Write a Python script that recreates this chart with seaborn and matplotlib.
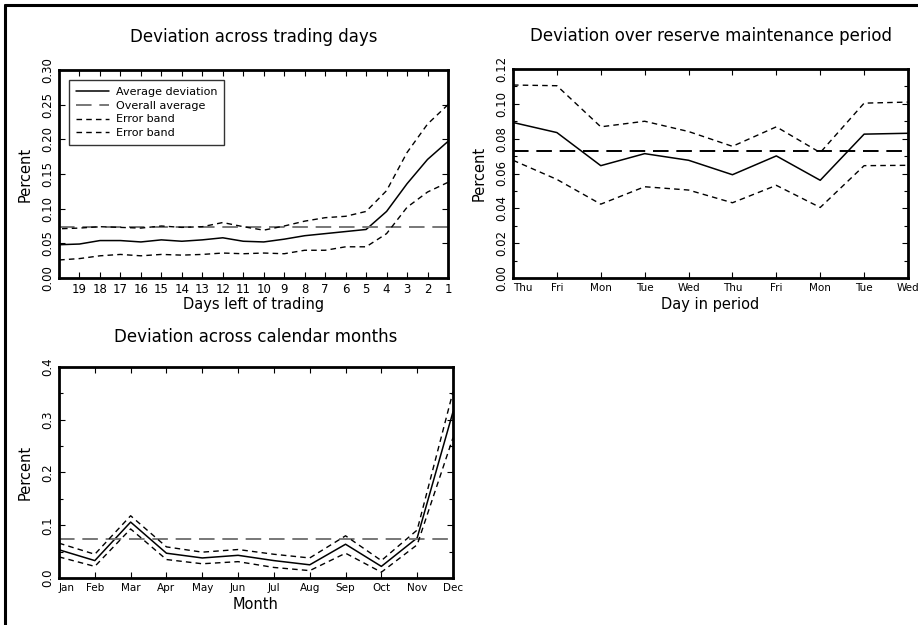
import numpy as np
import pandas as pd
import seaborn as sns
import matplotlib.pyplot as plt
from matplotlib.ticker import MultipleLocator
from matplotlib.lines import Line2D

# --- data ---
overall_avg = 0.073

days_left = list(range(20, 0, -1))
days_mean = [0.048, 0.049, 0.054, 0.054, 0.052, 0.055, 0.053, 0.055, 0.058, 0.053,
             0.052, 0.056, 0.061, 0.064, 0.067, 0.070, 0.096, 0.136, 0.171, 0.197]
days_upper = [0.071, 0.072, 0.074, 0.073, 0.072, 0.075, 0.073, 0.074, 0.080, 0.074,
              0.069, 0.075, 0.082, 0.087, 0.089, 0.096, 0.126, 0.181, 0.222, 0.250]
days_lower = [0.026, 0.028, 0.032, 0.034, 0.032, 0.034, 0.033, 0.034, 0.036, 0.035,
              0.036, 0.035, 0.040, 0.040, 0.045, 0.045, 0.064, 0.102, 0.124, 0.138]

period_days = ['Thu', 'Fri', 'Mon', 'Tue', 'Wed', 'Thu', 'Fri', 'Mon', 'Tue', 'Wed']
period_mean = [0.0893, 0.0835, 0.0645, 0.0714, 0.0676, 0.0593, 0.0701, 0.0561, 0.0826, 0.0831]
period_upper = [0.1108, 0.1104, 0.0868, 0.0900, 0.0841, 0.0756, 0.0868, 0.0720, 0.1004, 0.1010]
period_lower = [0.0676, 0.0566, 0.0424, 0.0524, 0.0505, 0.0432, 0.0532, 0.0405, 0.0645, 0.0647]

months = ['Jan', 'Feb', 'Mar', 'Apr', 'May', 'Jun', 'Jul', 'Aug', 'Sep', 'Oct', 'Nov', 'Dec']
month_mean = [0.0535, 0.033, 0.106, 0.047, 0.038, 0.043, 0.033, 0.025, 0.064, 0.022, 0.076, 0.315]
month_upper = [0.066, 0.045, 0.118, 0.059, 0.049, 0.054, 0.045, 0.038, 0.080, 0.033, 0.091, 0.353]
month_lower = [0.040, 0.022, 0.093, 0.035, 0.027, 0.031, 0.020, 0.014, 0.047, 0.011, 0.063, 0.266]

sns.set_style('ticks')
plt.rcParams['font.family'] = ['DejaVu Sans']
plt.rcParams['text.color'] = 'black'
plt.rcParams['axes.labelcolor'] = 'black'
plt.rcParams['xtick.color'] = 'black'
plt.rcParams['ytick.color'] = 'black'
plt.rcParams['axes.edgecolor'] = 'black'

W, H = 918, 625
fig = plt.figure(figsize=(W / 100, H / 100), dpi=100)

def px_axes(l, t, r, b):
    return fig.add_axes([l / W, 1 - b / H, (r - l) / W, (b - t) / H])

# outer frame (left and top edges visible)
fig.add_artist(Line2D([5 / W, 5 / W], [0, 1 - 5 / H], color='black', lw=2.2))
fig.add_artist(Line2D([5 / W, 1], [1 - 5 / H, 1 - 5 / H], color='black', lw=2.2))

short_dash = (0, (4, 3))
long_dash = (0, (8, 4))

def draw(ax, x, mean, upper, lower, avg_color):
    sns.lineplot(x=x, y=mean, ax=ax, color='black', lw=1.1, label='Average deviation')
    ax.axhline(overall_avg, color=avg_color, lw=1.4, ls=long_dash, label='Overall average')
    sns.lineplot(x=x, y=upper, ax=ax, color='black', lw=1.0, ls=short_dash, label='Error band')
    sns.lineplot(x=x, y=lower, ax=ax, color='black', lw=1.0, ls=short_dash, label='Error band')

def style(ax, title, xlabel, pad=20):
    ax.set_title(title, fontsize=12, pad=pad, color='black')
    ax.set_xlabel(xlabel, fontsize=10.5, labelpad=3)
    ax.set_ylabel('Percent', fontsize=10.5, labelpad=6)
    for s in ax.spines.values():
        s.set_linewidth(2)
        s.set_visible(True)
        s.set_color('black')
    ax.tick_params(which='both', direction='in', top=True, right=True, labelsize=8.5)
    ax.tick_params(which='major', length=4, width=0.8)
    ax.tick_params(which='minor', length=3, width=0.8)
    for lab in ax.get_yticklabels():
        lab.set_rotation(90)
        lab.set_va('center')

# panel 1: trading days
ax1 = px_axes(59, 70, 448, 278)
draw(ax1, days_left, days_mean, days_upper, days_lower, '#777777')
ax1.set_xlim(20, 1)
ax1.set_ylim(0, 0.30)
ax1.set_xticks(days_left)
ax1.set_xticklabels([''] + [str(d) for d in days_left[1:]])
ax1.yaxis.set_major_locator(MultipleLocator(0.05))
ax1.yaxis.set_major_formatter(plt.FormatStrFormatter('%.2f'))
style(ax1, 'Deviation across trading days', 'Days left of trading', pad=20)
ax1.set_xlabel('Days left of trading', fontsize=10.5, labelpad=1)
leg = ax1.legend(loc='upper left', bbox_to_anchor=(0.026, 0.952), borderaxespad=0,
                 fontsize=8, frameon=True, fancybox=False, handlelength=3.0,
                 borderpad=0.6, labelspacing=0.35, handletextpad=0.6)
leg.get_frame().set_edgecolor('black')
leg.get_frame().set_linewidth(1.0)

# panel 2: reserve maintenance period
ax2 = px_axes(513, 69, 908, 278)
pos2 = list(range(len(period_days)))
draw(ax2, pos2, period_mean, period_upper, period_lower, 'black')
ax2.get_legend().remove()
ax2.set_xlim(0, len(period_days) - 1)
ax2.set_ylim(0, 0.12)
ax2.set_xticks(pos2)
ax2.set_xticklabels(period_days)
ax2.yaxis.set_major_locator(MultipleLocator(0.02))
ax2.yaxis.set_minor_locator(MultipleLocator(0.01))
ax2.yaxis.set_major_formatter(plt.FormatStrFormatter('%.2f'))
style(ax2, 'Deviation over reserve maintenance period', 'Day in period', pad=20)
for lab in ax2.get_xticklabels():
    lab.set_fontsize(7.5)
ax2.get_xticklabels()[0].set_ha('left')

# panel 3: calendar months
ax3 = px_axes(59, 367, 453, 578)
pos3 = list(range(len(months)))
draw(ax3, pos3, month_mean, month_upper, month_lower, '#777777')
ax3.get_legend().remove()
ax3.set_xlim(0, len(months) - 1)
ax3.set_ylim(0, 0.4)
ax3.set_xticks(pos3)
ax3.set_xticklabels(months)
ax3.yaxis.set_major_locator(MultipleLocator(0.1))
ax3.yaxis.set_minor_locator(MultipleLocator(0.05))
ax3.yaxis.set_major_formatter(plt.FormatStrFormatter('%.1f'))
style(ax3, 'Deviation across calendar months', 'Month', pad=18)
for lab in ax3.get_xticklabels():
    lab.set_fontsize(7.5)
ax3.get_xticklabels()[0].set_ha('left')

fig.savefig('out.png', dpi=100)
